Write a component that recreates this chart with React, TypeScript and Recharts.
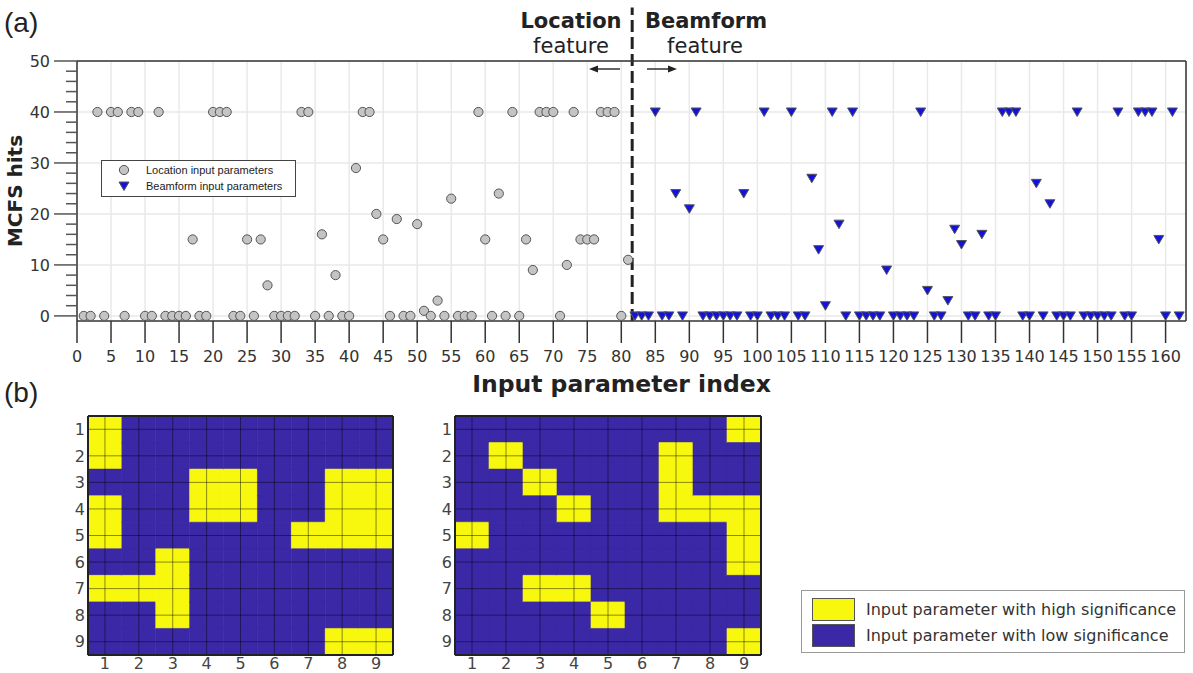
import React from "react";
import {
  ScatterChart,
  Scatter,
  BarChart,
  Bar,
  Cell,
  XAxis,
  YAxis,
  CartesianGrid,
  ReferenceLine,
  Legend,
} from "recharts";

// MCFS hits per input parameter: 1..81 are location, 82..162 beamform
const locationHits = [
  0, 0, 40, 0, 40, 40, 0, 40, 40, 0,
  0, 40, 0, 0, 0, 0, 15, 0, 0, 40,
  40, 40, 0, 0, 15, 0, 15, 6, 0, 0,
  0, 0, 40, 40, 0, 16, 0, 8, 0, 0,
  29, 40, 40, 20, 15, 0, 19, 0, 0, 18,
  1, 0, 3, 0, 23, 0, 0, 0, 40, 15,
  0, 24, 0, 40, 0, 15, 9, 40, 40, 40,
  0, 10, 40, 15, 15, 15, 40, 40, 40, 0,
  11,
];
const beamformHits = [
  0, 0, 0, 40, 0, 0, 24, 0, 21,
  40, 0, 0, 0, 0, 0, 0, 24, 0, 0,
  40, 0, 0, 0, 40, 0, 0, 27, 13, 2,
  40, 18, 0, 40, 0, 0, 0, 0, 9, 0,
  0, 0, 0, 40, 5, 0, 0, 3, 17, 14,
  0, 0, 16, 0, 0, 40, 40, 40, 0, 0,
  26, 0, 22, 0, 0, 0, 40, 0, 0, 0,
  0, 0, 40, 0, 0, 40, 40, 40, 15, 0,
  40, 0,
];
const featureSplit = 81.6;
const seriesNames = ["Location input parameters", "Beamform input parameters"];

const indexTicks = Array.from({ length: 33 }, (_, i) => i * 5);
const hitsTicks = Array.from({ length: 26 }, (_, i) => i * 2);
const hitsGrid = [0, 10, 20, 30, 40, 50];

// 9x9 significance maps, 1 = high significance
const rowLabels = ["1", "2", "3", "4", "5", "6", "7", "8", "9"];
const colLabels = ["1", "2", "3", "4", "5", "6", "7", "8", "9"];
const locationMap = [
  [1, 0, 0, 0, 0, 0, 0, 0, 0],
  [1, 0, 0, 0, 0, 0, 0, 0, 0],
  [0, 0, 0, 1, 1, 0, 0, 1, 1],
  [1, 0, 0, 1, 1, 0, 0, 1, 1],
  [1, 0, 0, 0, 0, 0, 1, 1, 1],
  [0, 0, 1, 0, 0, 0, 0, 0, 0],
  [1, 1, 1, 0, 0, 0, 0, 0, 0],
  [0, 0, 1, 0, 0, 0, 0, 0, 0],
  [0, 0, 0, 0, 0, 0, 0, 1, 1],
];
const beamformMap = [
  [0, 0, 0, 0, 0, 0, 0, 0, 1],
  [0, 1, 0, 0, 0, 0, 1, 0, 0],
  [0, 0, 1, 0, 0, 0, 1, 0, 0],
  [0, 0, 0, 1, 0, 0, 1, 1, 1],
  [1, 0, 0, 0, 0, 0, 0, 0, 1],
  [0, 0, 0, 0, 0, 0, 0, 0, 1],
  [0, 0, 1, 1, 0, 0, 0, 0, 0],
  [0, 0, 0, 0, 1, 0, 0, 0, 0],
  [0, 0, 0, 0, 0, 0, 0, 0, 1],
];

const HIGH = "#F8F80E";
const LOW = "#3A28A6";
const significanceLegend = [
  { label: "Input parameter with high significance", color: HIGH },
  { label: "Input parameter with low significance", color: LOW },
];

const FONT = '"DejaVu Sans", Verdana, sans-serif';

const locationPoints = locationHits.map((hits, i) => ({ index: i + 1, hits }));
const beamformPoints = beamformHits.map((hits, i) => ({
  index: locationHits.length + i + 1,
  hits,
}));

function Circle(props: any) {
  const { cx, cy } = props;
  return <circle cx={cx} cy={cy} r={4.6} fill="#c4c4c4" stroke="#555" strokeWidth={1} />;
}

function Triangle(props: any) {
  const { cx, cy } = props;
  return (
    <path
      d={`M${cx - 5},${cy - 4}L${cx + 5},${cy - 4}L${cx},${cy + 4.5}Z`}
      fill="#1212dc"
      stroke="#555"
      strokeWidth={1}
    />
  );
}

function HitsTick(props: any) {
  const { x, y, payload } = props;
  const major = payload.value % 10 === 0;
  return (
    <g>
      <line x1={x - (major ? 23 : 11)} x2={x} y1={y} y2={y} stroke="#555" strokeWidth={1.5} />
      {major && (
        <text x={x - 27} y={y} dy="0.36em" textAnchor="end" fontSize={16} fill="#333" fontFamily={FONT}>
          {payload.value}
        </text>
      )}
    </g>
  );
}

function SeriesLegend(props: any) {
  const { payload = [] } = props;
  const entries = [...payload].sort(
    (a: any, b: any) => seriesNames.indexOf(a.value) - seriesNames.indexOf(b.value)
  );
  return (
    <div
      style={{
        width: 193,
        border: "1.5px solid #444",
        background: "#fff",
        padding: "1px 0 2px",
        fontFamily: '"Liberation Sans", Arial, sans-serif',
        fontSize: 11,
        color: "#222",
      }}
    >
      {entries.map((entry: any) => (
        <div key={entry.value} style={{ display: "flex", alignItems: "center", height: 16 }}>
          <svg width={44} height={14}>
            {entry.type === "triangle" ? (
              <Triangle cx={22} cy={7} />
            ) : (
              <Circle cx={22} cy={7} />
            )}
          </svg>
          <span>{entry.value}</span>
        </div>
      ))}
    </div>
  );
}

function SignificanceLegend() {
  return (
    <div
      style={{
        width: 384,
        height: 63,
        boxSizing: "border-box",
        border: "1px solid #999",
        background: "#fff",
        fontFamily: FONT,
        fontSize: 16,
        color: "#333",
        paddingTop: 5,
      }}
    >
      {significanceLegend.map((s) => (
        <div key={s.label} style={{ display: "flex", alignItems: "center", height: 26 }}>
          <div
            style={{
              width: 41,
              height: 21,
              marginLeft: 10,
              marginRight: 11,
              background: s.color,
              border: "1px solid #555",
            }}
          />
          <span>{s.label}</span>
        </div>
      ))}
    </div>
  );
}

function SignificanceMap({
  cells,
  width,
  axisWidth,
  marginRight,
  withLegend,
}: {
  cells: number[][];
  width: number;
  axisWidth: number;
  marginRight: number;
  withLegend?: boolean;
}) {
  const data = rowLabels.map((row) => {
    const entry: Record<string, string | number> = { row };
    colLabels.forEach((_, c) => {
      entry[`c${c}`] = 1;
    });
    return entry;
  });
  const colTicks = colLabels.map((_, c) => c + 0.5);
  const tickStyle = { fontSize: 16, fill: "#444", fontFamily: FONT };
  const gridLine = { stroke: "#000", strokeOpacity: 0.45, strokeWidth: 1 };
  return (
    <BarChart
      layout="vertical"
      width={width}
      height={273}
      data={data}
      margin={{ top: 15, right: marginRight, left: 0, bottom: 0 }}
      barCategoryGap={0}
      barGap={0}
    >
      {colLabels.map((_, c) => (
        <Bar key={c} dataKey={`c${c}`} stackId="map" isAnimationActive={false}>
          {cells.map((row, r) => {
            const fill = row[c] ? HIGH : LOW;
            return <Cell key={r} fill={fill} stroke={fill} strokeWidth={0.6} />;
          })}
        </Bar>
      ))}
      {colTicks.map((t) => (
        <ReferenceLine key={`v${t}`} x={t} {...gridLine} />
      ))}
      {rowLabels.map((row) => (
        <ReferenceLine key={`h${row}`} y={row} {...gridLine} />
      ))}
      <XAxis
        type="number"
        domain={[0, 9]}
        ticks={colTicks}
        interval={0}
        tickFormatter={(v: number) => colLabels[Math.round(v - 0.5)]}
        tick={tickStyle}
        tickLine={false}
        tickSize={0}
        tickMargin={3}
        height={18}
        axisLine={{ stroke: "#222", strokeWidth: 2 }}
      />
      <YAxis
        type="category"
        dataKey="row"
        width={axisWidth}
        tick={tickStyle}
        tickLine={false}
        tickSize={0}
        tickMargin={3}
        interval={0}
        axisLine={{ stroke: "#222", strokeWidth: 2 }}
      />
      <XAxis
        xAxisId="frame"
        orientation="top"
        type="number"
        domain={[0, 9]}
        tick={false}
        tickLine={false}
        height={1}
        axisLine={{ stroke: "#222", strokeWidth: 2 }}
      />
      <YAxis
        yAxisId="frame"
        orientation="right"
        type="number"
        domain={[0, 1]}
        tick={false}
        tickLine={false}
        width={1}
        axisLine={{ stroke: "#222", strokeWidth: 2 }}
      />
      {withLegend && (
        <Legend
          layout="vertical"
          align="center"
          verticalAlign="middle"
          wrapperStyle={{ left: 381, top: 190, width: "auto" }}
          content={() => <SignificanceLegend />}
        />
      )}
    </BarChart>
  );
}

export default function App() {
  return (
    <div
      style={{
        position: "absolute",
        left: 0,
        top: 0,
        width: 1193,
        height: 673,
        background: "#fff",
        overflow: "hidden",
      }}
    >
      <div style={{ position: "absolute", left: 0, top: 0 }}>
        <ScatterChart width={1193} height={400} margin={{ top: 60, right: 6, left: 0, bottom: 0 }}>
          <CartesianGrid stroke="#e9e9e9" strokeWidth={1.5} horizontalValues={hitsGrid} />
          <XAxis
            type="number"
            dataKey="index"
            domain={[0, 163]}
            ticks={indexTicks}
            interval={0}
            tickSize={22}
            tickMargin={8}
            height={79}
            tick={{ fontSize: 16, fill: "#333", fontFamily: FONT }}
            tickLine={{ stroke: "#333", strokeWidth: 1.5 }}
            axisLine={{ stroke: "#333", strokeWidth: 1.5 }}
            label={{
              value: "Input parameter index",
              position: "insideBottom",
              offset: 8,
              dx: -10,
              style: { fontSize: 23.5, fontWeight: "bold", fill: "#222", fontFamily: FONT },
            }}
          />
          <YAxis
            type="number"
            dataKey="hits"
            domain={[-1, 50]}
            ticks={hitsTicks}
            interval={0}
            width={77}
            tickSize={0}
            tickMargin={0}
            tick={<HitsTick />}
            tickLine={false}
            axisLine={{ stroke: "#333", strokeWidth: 1.5 }}
            label={{
              value: "MCFS hits",
              angle: -90,
              position: "insideLeft",
              offset: 15,
              style: { fontSize: 20, fontWeight: "bold", fill: "#222", fontFamily: FONT, textAnchor: "middle" },
            }}
          />
          <XAxis
            xAxisId="frame"
            orientation="top"
            type="number"
            domain={[0, 1]}
            tick={false}
            tickLine={false}
            height={1}
            axisLine={{ stroke: "#333", strokeWidth: 1.5 }}
          />
          <YAxis
            yAxisId="frame"
            orientation="right"
            type="number"
            domain={[0, 1]}
            tick={false}
            tickLine={false}
            width={1}
            axisLine={{ stroke: "#333", strokeWidth: 1.5 }}
          />
          <Scatter
            name={seriesNames[0]}
            data={locationPoints}
            legendType="circle"
            fill="#c4c4c4"
            shape={<Circle />}
            isAnimationActive={false}
          />
          <Scatter
            name={seriesNames[1]}
            data={beamformPoints}
            legendType="triangle"
            fill="#1212dc"
            shape={<Triangle />}
            isAnimationActive={false}
          />
          <ReferenceLine
            segment={[
              { x: featureSplit, y: -1 },
              { x: featureSplit, y: 60.5 },
            ]}
            ifOverflow="visible"
            stroke="#222"
            strokeWidth={3}
            strokeDasharray="12 5"
          />
          <Legend
            layout="vertical"
            align="center"
            verticalAlign="middle"
            wrapperStyle={{ left: 101, top: 160, width: "auto" }}
            content={<SeriesLegend />}
          />
        </ScatterChart>
      </div>

      <div style={{ position: "absolute", left: 60, top: 400 }}>
        <SignificanceMap cells={locationMap} width={340} axisWidth={28} marginRight={6} />
      </div>
      <div style={{ position: "absolute", left: 420, top: 400 }}>
        <SignificanceMap cells={beamformMap} width={773} axisWidth={35} marginRight={431} withLegend />
      </div>

      <svg
        width={1193}
        height={673}
        style={{ position: "absolute", left: 0, top: 0, pointerEvents: "none" }}
      >
        <g fontFamily='"Liberation Sans", Arial, sans-serif' fontSize={28} fill="#222">
          <text x={4} y={32}>(a)</text>
          <text x={4} y={402}>(b)</text>
        </g>
        <g fontFamily={FONT} fontSize={21} fill="#222" textAnchor="middle">
          <text x={571} y={28} fontWeight="bold">Location</text>
          <text x={571} y={53}>feature</text>
          <text x={706} y={28} fontWeight="bold">Beamform</text>
          <text x={705} y={53}>feature</text>
        </g>
        <g stroke="#222" strokeWidth={1.4} fill="#222">
          <line x1={597} y1={69} x2={620} y2={69} />
          <path d="M589,69L598,65.5L598,72.5Z" stroke="none" />
          <line x1={647} y1={69} x2={669} y2={69} />
          <path d="M677,69L668,65.5L668,72.5Z" stroke="none" />
        </g>
      </svg>
    </div>
  );
}
